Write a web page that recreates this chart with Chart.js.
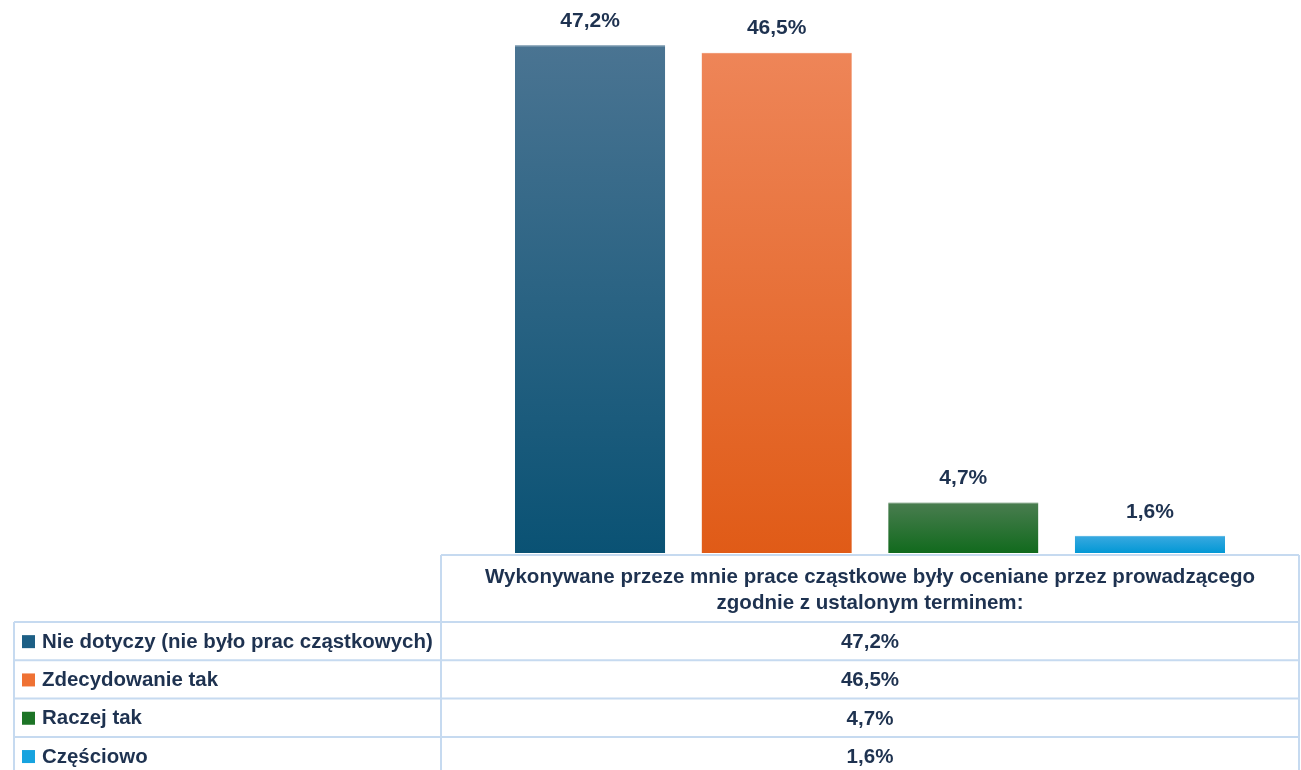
<!DOCTYPE html>
<html>
<head>
<meta charset="utf-8">
<script src="https://cdn.jsdelivr.net/npm/chart.js@4.4.1/dist/chart.umd.min.js"></script>
<style>
  html, body { margin: 0; padding: 0; background: #fff; }
  #wrap { position: relative; width: 1301px; height: 770px; }
</style>
</head>
<body>
<div id="wrap"><canvas id="chart" width="1301" height="770"></canvas></div>
<script>
/* ── Data ── */
const categoryLines = ['Wykonywane przeze mnie prace cząstkowe były oceniane przez prowadzącego', 'zgodnie z ustalonym terminem:'];
const seriesNames = ['Nie dotyczy (nie było prac cząstkowych)', 'Zdecydowanie tak', 'Raczej tak', 'Częściowo'];
const values = [47.2, 46.5, 4.7, 1.6];

// gradient top / bottom per series, plus legend swatch colour
const gradTop = ['#4a7492', '#ee8558', '#4a7d50', '#3aa9e0'];
const gradBottom = ['#0a5274', '#e05b17', '#116a1d', '#0298d5'];
const swatch = ['#1d5f85', '#ef7133', '#1c7426', '#17a3df'];

const textColor = '#1e3250';
const gridColor = '#c6daf0';
const fmt = v => v.toFixed(1).replace('.', ',') + '%';

const barFill = (i) => (context) => {
    const chart = context.chart;
    if (!chart.chartArea) return swatch[i];
    const y = chart.scales.y;
    const top = y.getPixelForValue(values[i]);
    const bottom = y.getPixelForValue(0);
    const g = chart.ctx.createLinearGradient(0, top, 0, bottom);
    g.addColorStop(0, gradTop[i]);
    g.addColorStop(1, gradBottom[i]);
    return g;
};

/* ── Value labels above bars ── */
const valueLabels = {
    id: 'valueLabels',
    afterDatasetsDraw(chart) {
        const c = chart.ctx;
        c.save();
        c.font = 'bold 21px "Liberation Sans", Arial, sans-serif';
        c.fillStyle = textColor;
        c.textAlign = 'center';
        c.textBaseline = 'middle';
        chart.data.datasets.forEach((ds, i) => {
            const bar = chart.getDatasetMeta(i).data[0];
            c.fillText(fmt(ds.data[0]), bar.x, bar.y - 24);
        });
        c.restore();
    }
};

/* ── Data table under the plot ── */
const dataTable = {
    id: 'dataTable',
    afterDraw(chart) {
        const c = chart.ctx;
        const { left, right, bottom } = chart.chartArea;
        const tableLeft = 14;
        const headerBottom = 622;
        const rowH = 38.3;
        const top = bottom + 2;
        const tableRight = right;

        c.save();
        c.strokeStyle = gridColor;
        c.lineWidth = 2;
        c.beginPath();
        // header cell
        c.moveTo(left, top); c.lineTo(tableRight, top);
        c.moveTo(left, top); c.lineTo(left, 770);
        c.moveTo(tableRight, top); c.lineTo(tableRight, 770);
        c.moveTo(tableLeft, headerBottom); c.lineTo(tableLeft, 770);
        for (let r = 0; r < seriesNames.length; r++) {
            const y = headerBottom + r * rowH;
            c.moveTo(tableLeft, y); c.lineTo(tableRight, y);
        }
        c.stroke();

        const midX = (left + tableRight) / 2;
        c.fillStyle = textColor;
        c.textAlign = 'center';
        c.textBaseline = 'middle';
        // condensed look: slightly larger font squeezed by maxWidth
        c.font = 'bold 21px "Liberation Sans", Arial, sans-serif';
        c.fillText(categoryLines[0], midX, 577, 770);
        c.fillText(categoryLines[1], midX, 603, 770 * c.measureText(categoryLines[1]).width / c.measureText(categoryLines[0]).width);
        const squeeze = 770 / c.measureText(categoryLines[0]).width;

        // left labels sized so the longest one ends near the column edge
        c.font = 'bold 19px "Liberation Sans", Arial, sans-serif';
        const labelSize = Math.min(21, 19 * 391 / c.measureText(seriesNames[0]).width);

        seriesNames.forEach((name, r) => {
            const cy = headerBottom + r * rowH + rowH / 2 + 1;
            c.font = 'bold 21px "Liberation Sans", Arial, sans-serif';
            c.textAlign = 'center';
            c.fillStyle = textColor;
            const txt = fmt(values[r]);
            c.fillText(txt, midX, cy, c.measureText(txt).width * squeeze);

            c.fillStyle = swatch[r];
            c.fillRect(22, cy - 7, 13, 13);
            c.font = `bold ${labelSize}px "Liberation Sans", Arial, sans-serif`;
            c.textAlign = 'left';
            c.fillStyle = textColor;
            c.fillText(name, 42, cy);
        });
        c.restore();
    }
};

new Chart(document.getElementById('chart'), {
    type: 'bar',
    data: {
        labels: [categoryLines],
        datasets: seriesNames.map((name, i) => ({
            label: name,
            data: [values[i]],
            backgroundColor: barFill(i),
            borderWidth: { top: 1, left: 0, right: 0, bottom: 0 },
            borderColor: gradTop[i],
            borderSkipped: false,
            categoryPercentage: 0.87,
            barPercentage: 0.805
        }))
    },
    options: {
        responsive: false,
        animation: false,
        layout: { padding: { left: 441, right: 2, top: 15, bottom: 217 } },
        plugins: {
            legend: { display: false },
            tooltip: { enabled: false }
        },
        scales: {
            x: { display: false },
            y: { display: false, min: 0, max: 50 }
        }
    },
    plugins: [valueLabels, dataTable]
});
</script>
</body>
</html>
